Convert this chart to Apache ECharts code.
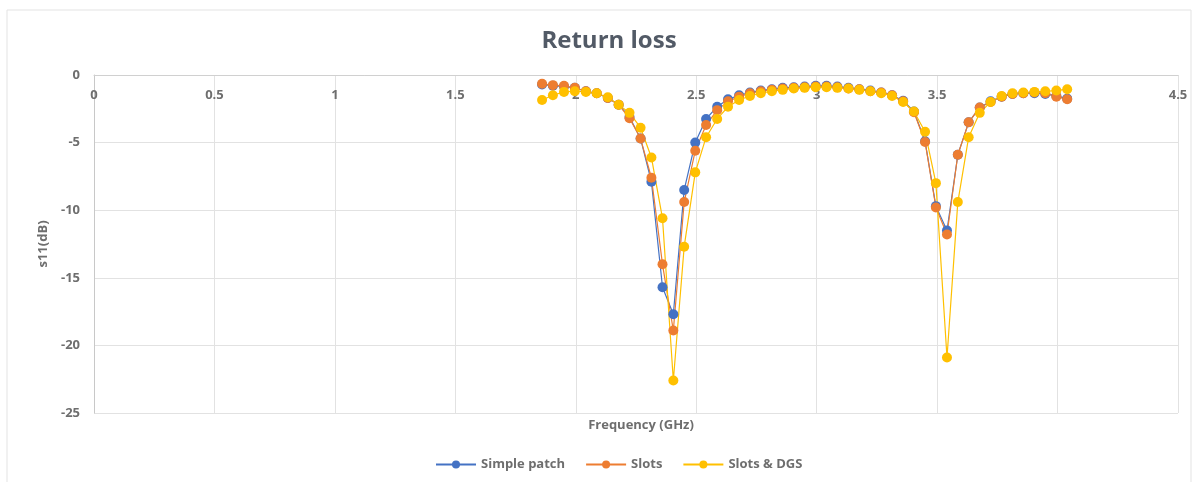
<!DOCTYPE html>
<html lang="en">

<head>
    <meta charset="UTF-8">
    <title>Return loss</title>
    <style>
        * {
            margin: 0;
            padding: 0;
        }
    </style>
    <script src="https://cdn.jsdelivr.net/npm/echarts@6/dist/echarts.min.js"></script>
</head>

<body>
    <div id="echart" style="width: 1195px;height: 482px;"></div>
    <script>
        // frequency points (GHz)
        var freq = [1.860, 1.905, 1.951, 1.996, 2.042, 2.087, 2.133, 2.178, 2.223, 2.269,
            2.314, 2.360, 2.405, 2.450, 2.496, 2.541, 2.587, 2.632, 2.678, 2.723,
            2.768, 2.814, 2.859, 2.905, 2.950, 2.996, 3.041, 3.086, 3.132, 3.177,
            3.223, 3.268, 3.313, 3.359, 3.404, 3.450, 3.495, 3.541, 3.586, 3.631,
            3.677, 3.722, 3.768, 3.813, 3.858, 3.904, 3.949, 3.995, 4.040
        ]
        var simplePatch = [-0.7, -0.8, -0.85, -0.95, -1.2, -1.35, -1.7, -2.2, -3.1, -4.7,
            -7.9, -15.7, -17.7, -8.5, -5.0, -3.25, -2.35, -1.8, -1.5, -1.3,
            -1.15, -1.05, -0.95, -0.9, -0.85, -0.8, -0.8, -0.85, -0.95, -1.05,
            -1.15, -1.3, -1.5, -1.9, -2.7, -4.9, -9.7, -11.5, -5.9, -3.5,
            -2.4, -1.95, -1.6, -1.4, -1.35, -1.35, -1.4, -1.55, -1.75
        ]
        var slots = [-0.65, -0.75, -0.8, -0.95, -1.2, -1.35, -1.7, -2.2, -3.2, -4.7,
            -7.6, -14.0, -18.9, -9.4, -5.6, -3.7, -2.6, -1.95, -1.6, -1.35,
            -1.2, -1.1, -1.0, -0.95, -0.9, -0.85, -0.85, -0.9, -1.0, -1.05,
            -1.2, -1.3, -1.5, -1.95, -2.75, -4.95, -9.8, -11.8, -5.9, -3.5,
            -2.4, -2.0, -1.6, -1.4, -1.35, -1.3, -1.35, -1.6, -1.8
        ]
        var slotsDgs = [-1.85, -1.5, -1.25, -1.2, -1.25, -1.35, -1.65, -2.2, -2.8, -3.9,
            -6.1, -10.6, -22.6, -12.7, -7.2, -4.6, -3.25, -2.35, -1.85, -1.55,
            -1.35, -1.2, -1.1, -1.0, -0.95, -0.9, -0.9, -0.95, -1.0, -1.1,
            -1.2, -1.35, -1.55, -2.0, -2.7, -4.2, -8.0, -20.9, -9.4, -4.6,
            -2.8, -2.0, -1.55, -1.35, -1.3, -1.25, -1.2, -1.15, -1.05
        ]
        var seriesNames = ['Simple patch', 'Slots', 'Slots & DGS']
        var colors = ['#4472C4', '#ED7D31', '#FFC000']

        function pairs(ys) {
            return freq.map((f, i) => [f, ys[i]])
        }

        var labelFont = {
            color: '#6e6e6e',
            fontFamily: 'Open Sans',
            fontSize: 13,
            fontWeight: 'bold'
        }

        var echart = echarts.init(document.getElementById('echart'));
        var option = {
            animation: false,
            color: colors,
            title: [{
                text: 'Return loss',
                left: 604,
                top: 24,
                textAlign: 'center',
                textStyle: {
                    color: '#525a66',
                    fontFamily: 'Open Sans',
                    fontSize: 24,
                    fontWeight: 'bold'
                }
            }, {
                text: 'Frequency (GHz)',
                left: 636,
                top: 414,
                textAlign: 'center',
                textStyle: labelFont
            }],
            graphic: [{
                type: 'rect',
                shape: { x: 7, y: 10, width: 1184, height: 480 },
                style: { fill: 'none', stroke: '#e3e3e3', lineWidth: 1 },
                silent: true
            }],
            legend: {
                bottom: 6,
                left: 430,
                itemWidth: 40,
                itemHeight: 10,
                itemGap: 20,
                textStyle: labelFont,
                data: seriesNames
            },
            grid: {
                left: 94,
                right: 17,
                top: 75,
                bottom: 69
            },
            xAxis: {
                type: 'value',
                position: 'top',
                min: 0,
                max: 4.5,
                interval: 0.5,
                axisLine: { lineStyle: { color: '#d0d0d0' } },
                axisTick: { show: false },
                axisLabel: Object.assign({ inside: true, margin: 14 }, labelFont),
                splitLine: { lineStyle: { color: '#e2e2e2' } }
            },
            yAxis: {
                type: 'value',
                min: -25,
                max: 0,
                interval: 5,
                name: 's11(dB)',
                nameLocation: 'middle',
                nameGap: 44,
                nameTextStyle: labelFont,
                axisLine: { show: true, lineStyle: { color: '#c8c8c8' } },
                axisTick: { show: false },
                axisLabel: Object.assign({ margin: 14 }, labelFont),
                splitLine: { lineStyle: { color: '#e2e2e2' } }
            },
            series: [simplePatch, slots, slotsDgs].map((ys, i) => ({
                name: seriesNames[i],
                type: 'line',
                data: pairs(ys),
                symbol: 'circle',
                symbolSize: 10,
                lineStyle: { width: 1.2 },
                itemStyle: { color: colors[i] }
            }))
        };
        echart.setOption(option);
    </script>
</body>

</html>
